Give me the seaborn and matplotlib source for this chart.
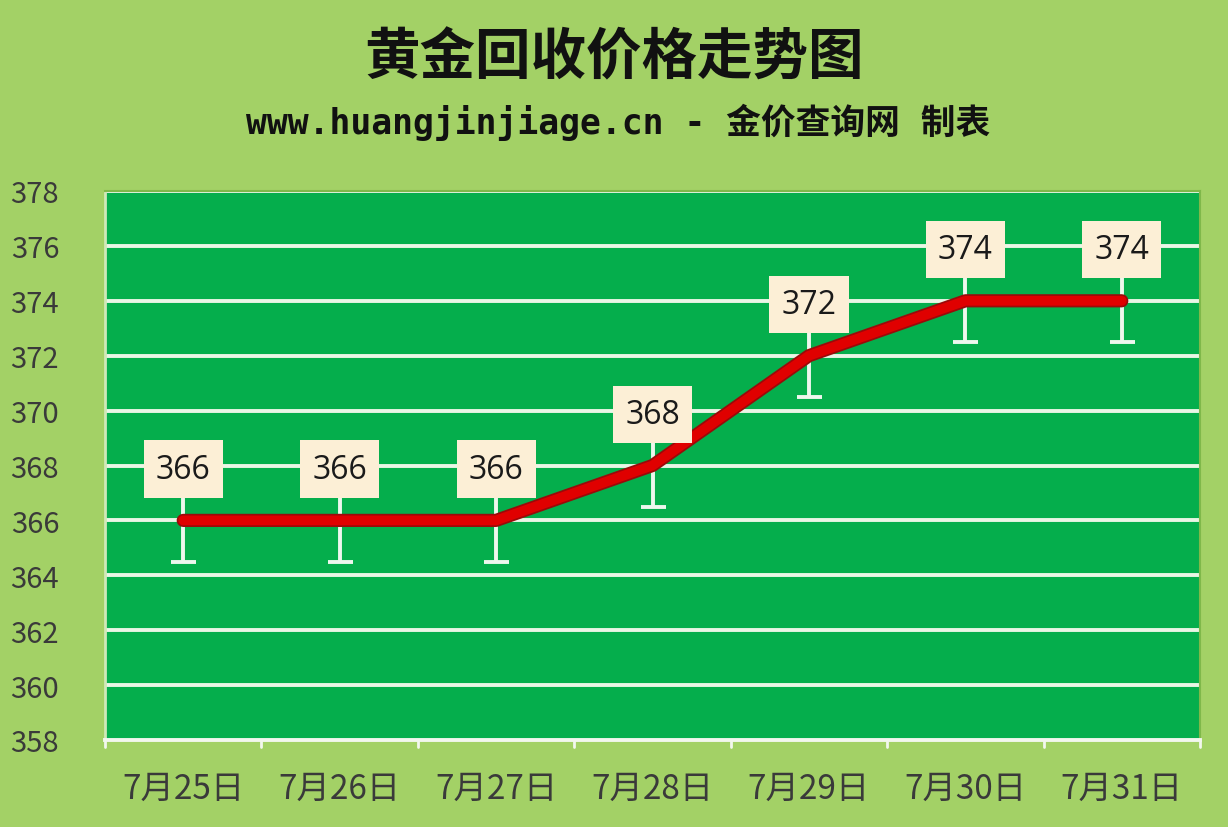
import matplotlib.pyplot as plt
import matplotlib.patheffects as pe
import seaborn as sns
import pandas as pd
import numpy as np

dates = ['7月25日', '7月26日', '7月27日', '7月28日', '7月29日', '7月30日', '7月31日']
prices = [366, 366, 366, 368, 372, 374, 374]
err = [1.5, 1.5, 1.5, 1.5, 1.5, 1.5, 1.5]
yticks = [358, 360, 362, 364, 366, 368, 370, 372, 374, 376, 378]

title = '黄金回收价格走势图'
subtitle = 'www.huangjinjiage.cn - 金价查询网 制表'

bg = '#A3D166'
plot_bg = '#05AE4C'

sns.set_theme(style='white')
plt.rcParams['font.family'] = ['Noto Sans CJK SC', 'DejaVu Sans']

df = pd.DataFrame({'date': dates, 'price': prices, 'err': err})
df['x'] = np.arange(len(df))

fig = plt.figure(figsize=(12.28, 8.28), dpi=100, facecolor=bg)
ax = fig.add_axes([105 / 1228, 1 - 741 / 828, (1200 - 105) / 1228, (741 - 192) / 828])
ax.set_facecolor(plot_bg)

# grid
for y in yticks[1:]:
    ax.axhline(y, color='#EAF6E6', lw=2.8, zorder=1)

# error bars (white, behind labels)
ax.errorbar(df['x'], df['price'], yerr=df['err'], fmt='none', ecolor='#EEF7EE',
            elinewidth=2.8, capsize=9, capthick=2.8, zorder=2)

# price line
sns.lineplot(data=df, x='x', y='price', ax=ax, color='#E00000', lw=7,
             solid_capstyle='round', solid_joinstyle='round', zorder=3,
             path_effects=[pe.Stroke(linewidth=9.5, foreground='#9A0A0A'), pe.Normal()])

# data labels
for _, r in df.iterrows():
    ax.text(r['x'], r['price'] + 1.87, str(r['price']), ha='center', va='center',
            fontsize=23, color='#1A1A1A', family=['Open Sans', 'DejaVu Sans'], zorder=5,
            bbox=dict(boxstyle='square,pad=0.38', fc='#FCEFD6', ec='none'))

ax.set_xlim(-0.5, len(df) - 0.5)
ax.set_ylim(358, 378)
ax.set_yticks(yticks)
ax.set_yticklabels([str(v) for v in yticks], fontsize=21, color='#3A3A3A')
ax.set_xticks(df['x'])
ax.set_xticklabels(dates, fontsize=24, color='#3A3A3A')
ax.tick_params(axis='y', length=0, pad=33)
ax.tick_params(axis='x', length=0, pad=22)
ax.set_xlabel('')
ax.set_ylabel('')

# category boundary tick marks
for b in np.arange(-0.5, len(df), 1.0):
    ax.plot([b, b], [358, 357.75], color='#F2F7EE', lw=2, clip_on=False, zorder=4)

for s in ['top', 'right']:
    ax.spines[s].set_color('#7FB84A')
    ax.spines[s].set_linewidth(1.5)
ax.spines['left'].set_color('#CFE8B8')
ax.spines['left'].set_linewidth(2)
ax.spines['bottom'].set_color('#F2F7EE')
ax.spines['bottom'].set_linewidth(2.8)

fig.text(0.5, 1 - 58 / 828, title, ha='center', va='center', fontsize=40,
         fontweight='bold', color='#111111')
fig.text(0.503, 1 - 122 / 828, subtitle, ha='center', va='center', fontsize=25,
         fontweight='bold', color='#111111',
         family=['DejaVu Sans Mono', 'Noto Sans CJK SC'])

fig.savefig('out.png', dpi=100, facecolor=bg)
